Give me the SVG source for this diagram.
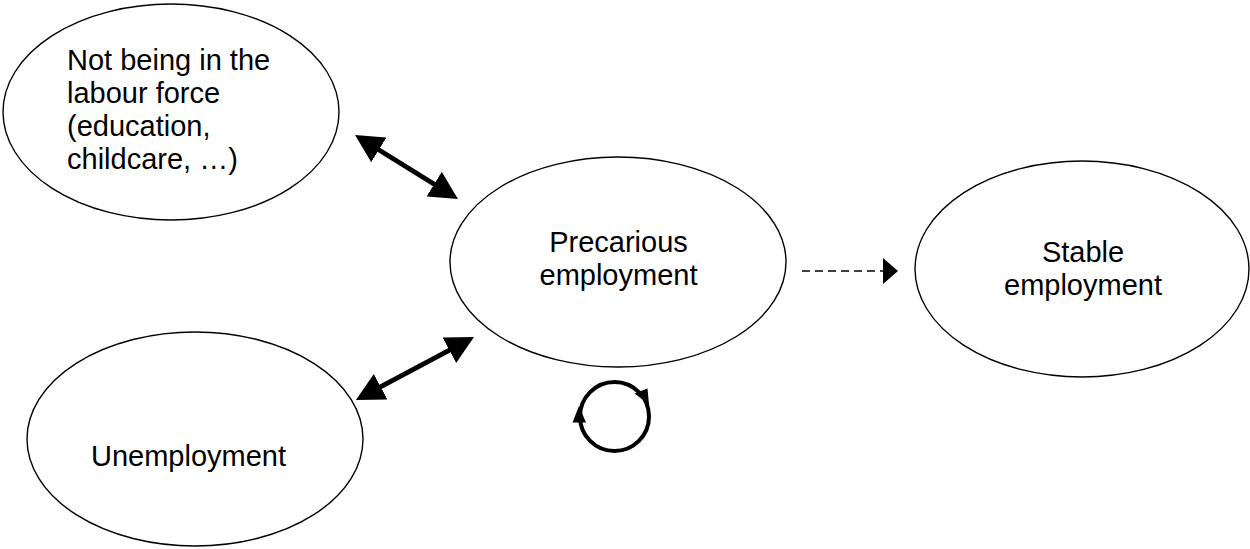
<svg xmlns="http://www.w3.org/2000/svg" width="1250" height="549" viewBox="0 0 1250 549">
<style>
.node{fill:#fff;stroke:#000;stroke-width:1.4}
.lbl{font-family:"Liberation Sans",Arial,sans-serif;font-size:29px;fill:#000}
.mid{text-anchor:middle}
.thick{stroke:#000;stroke-width:5;fill:none}
.dash{stroke:#000;stroke-width:1.5;stroke-dasharray:8 5;fill:none}
.loop{stroke:#000;stroke-width:4;fill:none}
.head{fill:#000}
</style>
<defs>
<marker id="big" viewBox="0 0 28 29" refX="13" refY="14.5" markerWidth="28" markerHeight="29" markerUnits="userSpaceOnUse" orient="auto-start-reverse">
<path d="M0,0 L28,14.5 L0,29 z" fill="#000"/>
</marker>
</defs>
<g id="node-notlabour">
<ellipse class="node" cx="171" cy="112" rx="168" ry="108"/>
<text class="lbl" x="67" y="70">Not being in the</text>
<text class="lbl" x="67" y="103">labour force</text>
<text class="lbl" x="67" y="136">(education,</text>
<text class="lbl" x="67" y="169">childcare, …)</text>
</g>
<g id="node-precarious">
<ellipse class="node" cx="618" cy="262" rx="168" ry="105"/>
<text class="lbl mid" x="618.5" y="252">Precarious</text>
<text class="lbl mid" x="618.5" y="285">employment</text>
</g>
<g id="node-stable">
<ellipse class="node" cx="1082" cy="269" rx="167" ry="108"/>
<text class="lbl mid" x="1083" y="262">Stable</text>
<text class="lbl mid" x="1083" y="295">employment</text>
</g>
<g id="node-unemployment">
<ellipse class="node" cx="195" cy="439" rx="168" ry="107"/>
<text class="lbl mid" x="188.5" y="466">Unemployment</text>
</g>
<g id="connectors">
<line class="thick" x1="367.8" y1="143" x2="445.2" y2="191" marker-start="url(#big)" marker-end="url(#big)"/>
<line class="thick" x1="369.2" y1="392.9" x2="460.8" y2="344.1" marker-start="url(#big)" marker-end="url(#big)"/>
<line class="dash" x1="802" y1="271" x2="884" y2="271"/>
<polygon class="head" points="883,258 898,271 883,284"/>
<circle class="loop" cx="614.5" cy="416.5" r="34.5"/>
<polygon class="head" points="634.5,393.5 647.5,388.5 649,404.5"/>
<polygon class="head" points="579,406 572.5,422.5 586,422.5"/>
</g>
</svg>
